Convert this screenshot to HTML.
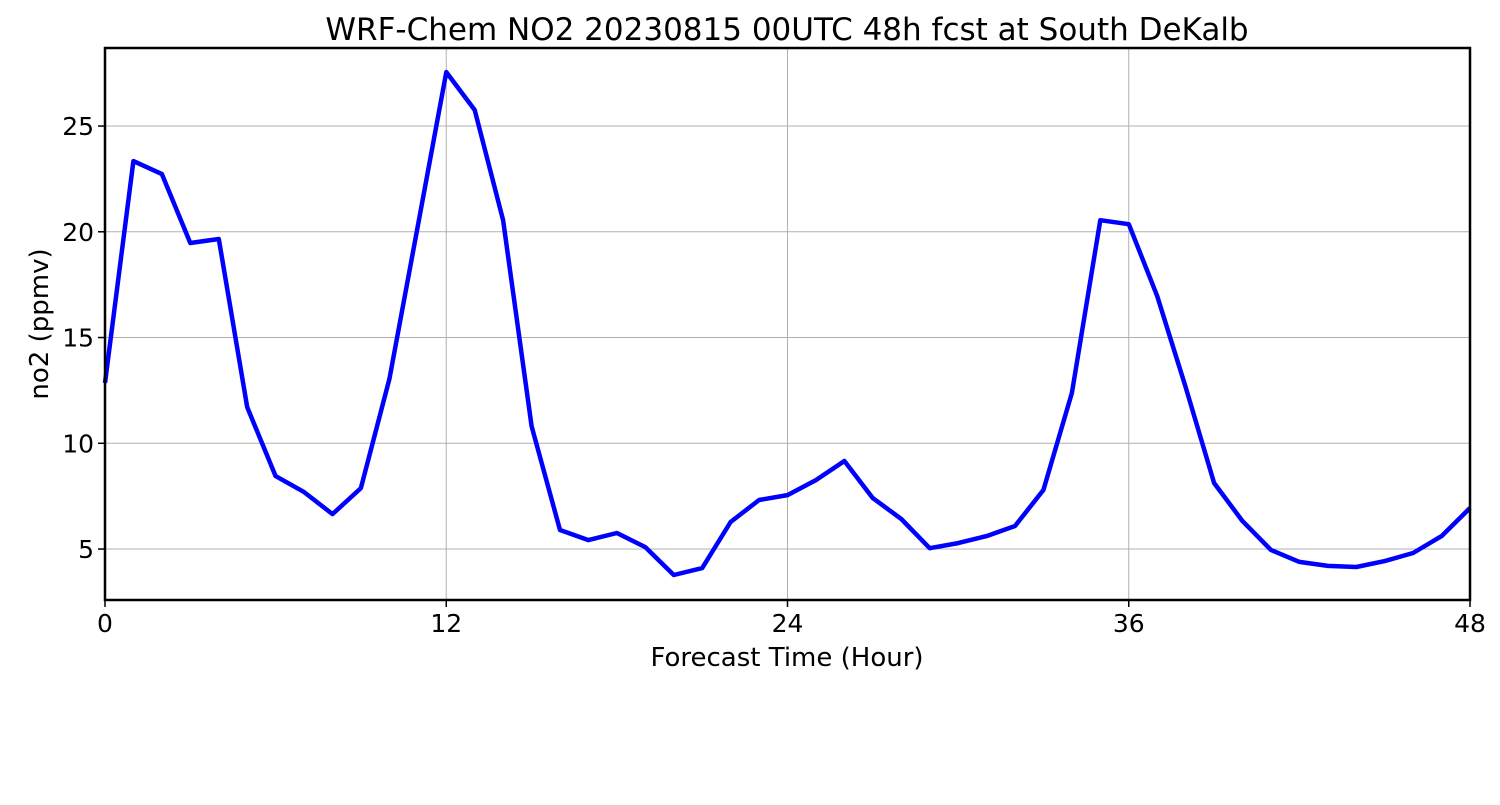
<!DOCTYPE html>
<html><head><meta charset="utf-8"><style>
body{margin:0;background:#fff;}
svg text{font-family:"DejaVu Sans","Liberation Sans",sans-serif;fill:#000;}
</style></head><body>
<svg id="chart" width="1500" height="800" xmlns="http://www.w3.org/2000/svg">
<rect width="1500" height="800" fill="#fff"/>
<text x="787" y="40" font-size="31" text-anchor="middle">WRF-Chem NO2  20230815 00UTC 48h fcst at South DeKalb</text>
<g id="grid"></g>
<g id="series"></g>
<rect x="105" y="48" width="1365" height="552" fill="none" stroke="#000" stroke-width="2.5"/>
<g id="xticks"></g>
<g id="yticks"></g>
<text x="787" y="666" font-size="26" text-anchor="middle">Forecast Time (Hour)</text>
<text transform="translate(48,324) rotate(-90)" font-size="26" text-anchor="middle">no2  (ppmv)</text>
</svg>
<script>
const hours = [0,1,2,3,4,5,6,7,8,9,10,11,12,13,14,15,16,17,18,19,20,21,22,23,24,25,26,27,28,29,30,31,32,33,34,35,36,37,38,39,40,41,42,43,44,45,46,47,48];
const no2 = [12.85,23.34,22.73,19.47,19.66,11.71,8.45,7.69,6.65,7.88,13.04,20.27,27.55,25.76,20.55,10.81,5.90,5.42,5.76,5.09,3.77,4.10,6.28,7.32,7.55,8.26,9.16,7.41,6.42,5.04,5.28,5.61,6.09,7.79,12.38,20.55,20.36,16.96,12.66,8.12,6.32,4.96,4.39,4.20,4.15,4.43,4.81,5.61,6.94];
const xTicks = [0,12,24,36,48];
const yTicks = [5,10,15,20,25];
const NS='http://www.w3.org/2000/svg';
const x0=105,x1=1470,yTop=48,yBot=600,xmin=0,xmax=48,ymin=2.59,ymax=28.69;
const X=v=>x0+(v-xmin)/(xmax-xmin)*(x1-x0);
const Y=v=>yBot-(v-ymin)/(ymax-ymin)*(yBot-yTop);
function mk(t,a,p){const e=document.createElementNS(NS,t);for(const k in a)e.setAttribute(k,a[k]);p.appendChild(e);return e;}
const grid=document.getElementById('grid'),xt=document.getElementById('xticks'),yt=document.getElementById('yticks'),ser=document.getElementById('series');
xTicks.forEach(v=>{
 const l=mk('line',{x1:X(v),x2:X(v),y1:yTop,y2:yBot,stroke:'#b0b0b0','stroke-width':1},grid);
 
 
 const tk=mk('line',{x1:X(v),x2:X(v),y1:yBot,y2:yBot+7,stroke:'#000','stroke-width':1.5},xt);
 
 
 const t=mk('text',{x:X(v),y:632,'font-size':25,'text-anchor':'middle'},xt);t.textContent=v;
 
 
});
yTicks.forEach(v=>{
 const l=mk('line',{x1:x0,x2:x1,y1:Y(v),y2:Y(v),stroke:'#b0b0b0','stroke-width':1},grid);
 
 
 const tk=mk('line',{x1:x0-7,x2:x0,y1:Y(v),y2:Y(v),stroke:'#000','stroke-width':1.5},yt);
 
 
 const t=mk('text',{x:94,y:Y(v)+9,'font-size':25,'text-anchor':'end'},yt);t.textContent=v;
 
 
});
const pts=hours.map((h,i)=>X(h).toFixed(1)+','+Y(no2[i]).toFixed(1)).join(' ');
const line=mk('polyline',{points:pts,fill:'none',stroke:'#0000ff','stroke-width':4.5,'stroke-linejoin':'round'},ser);


</script>
</body></html>
